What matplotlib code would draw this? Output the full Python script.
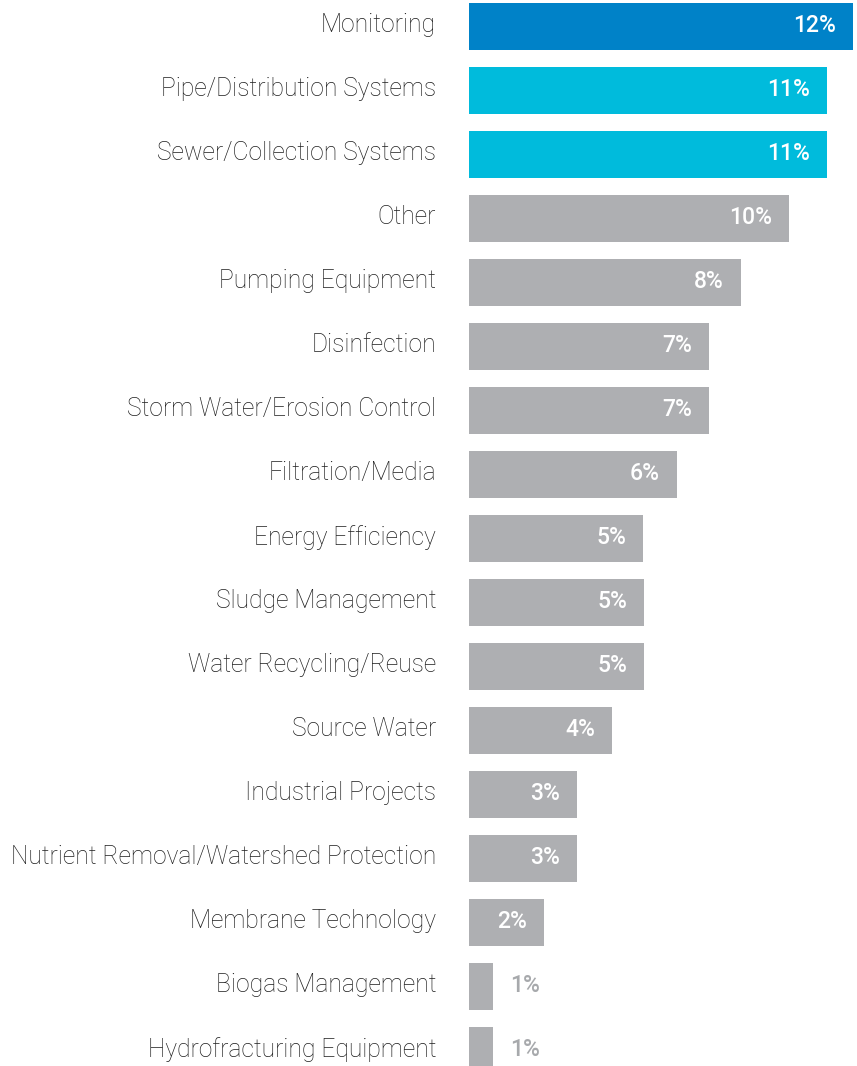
import matplotlib.pyplot as plt

categories = [
    "Monitoring", "Pipe/Distribution Systems", "Sewer/Collection Systems", "Other",
    "Pumping Equipment", "Disinfection", "Storm Water/Erosion Control", "Filtration/Media",
    "Energy Efficiency", "Sludge Management", "Water Recycling/Reuse", "Source Water",
    "Industrial Projects", "Nutrient Removal/Watershed Protection", "Membrane Technology",
    "Biogas Management", "Hydrofracturing Equipment",
]
shares = [12.0, 11.2, 11.2, 10.0, 8.49, 7.49, 7.49, 6.49, 5.44, 5.47, 5.47,
          4.47, 3.38, 3.38, 2.34, 0.75, 0.75]

blue = "#0082C8"
cyan = "#00BBDC"
grey = "#AEAFB2"
colors = [blue, cyan, cyan] + [grey] * (len(categories) - 3)

W, H = 857, 1066
fig = plt.figure(figsize=(W / 100, H / 100), dpi=100)
x0 = 469
ax = fig.add_axes([x0 / W, 0, (W - x0) / W, 1])

px_per_pct = 32
pitch = 64
ax.set_xlim(0, (W - x0) / px_per_pct)
ax.set_ylim((H - 26.5) / pitch, -26.5 / pitch)

ypos = list(range(len(categories)))
ax.barh(ypos, shares, height=47 / pitch, color=colors)

pad = 17 / px_per_pct
for y, v, name in zip(ypos, shares, categories):
    label = f"{v:.0f}%"
    if v >= 1.5:
        ax.text(v - pad, y - 0.02, label, ha="right", va="center", color="white",
                fontsize=16.5, fontweight=500, family="Roboto")
    else:
        ax.text(v + pad, y - 0.02, label, ha="left", va="center", color="#A7A9AC",
                fontsize=16.5, fontweight=500, family="Roboto")
    ax.text(-33 / px_per_pct, y - 0.02, name, ha="right", va="center", color="#1E1E1E",
            fontsize=17.7, fontweight="light", family="Roboto", clip_on=False)

ax.axis("off")
fig.savefig("out.png", dpi=100)
